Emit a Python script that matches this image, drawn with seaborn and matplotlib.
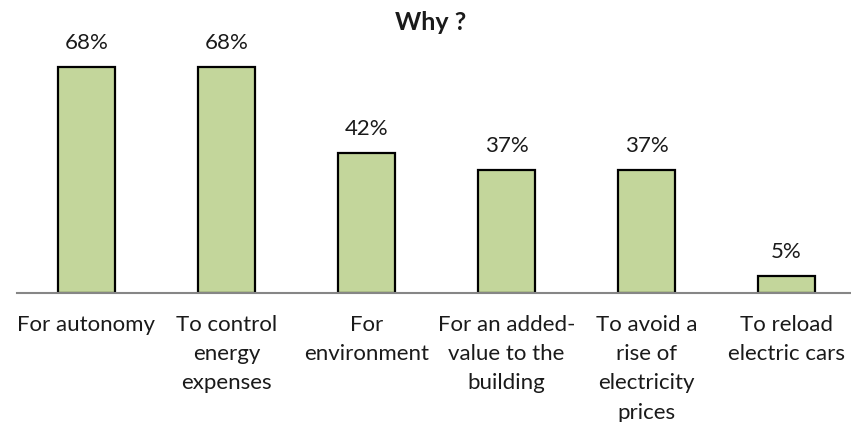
import matplotlib
matplotlib.use("Agg")
import matplotlib.pyplot as plt
import seaborn as sns
import pandas as pd

sns.set_theme(style="white")
plt.rcParams["font.family"] = ["Lato", "DejaVu Sans"]

categories = [
    "For autonomy",
    "To control\nenergy\nexpenses",
    "For\nenvironment",
    "For an added-\nvalue to the\nbuilding",
    "To avoid a\nrise of\nelectricity\nprices",
    "To reload\nelectric cars",
]
shares = [68, 68, 42, 37, 37, 5]

df = pd.DataFrame({"reason": categories, "share": shares})

W, H = 851, 422
fig = plt.figure(figsize=(W / 100, H / 100), dpi=100)
base_y = 292.7
ax = fig.add_axes([16.5 / W, (H - base_y) / H, 840 / W, base_y / H])

sns.barplot(data=df, x="reason", y="share", color="#C3D69B", width=0.41,
            edgecolor="black", linewidth=1.6, saturation=1, ax=ax)

ax.set_xlim(-0.5, 5.5)
ax.set_ylim(0, base_y / 3.32)

for c in ax.containers:
    ax.bar_label(c, labels=[f"{v}%" for v in shares], padding=10,
                 fontsize=16, color="#1a1a1a")

ax.set_xlabel("")
ax.set_ylabel("")
ax.set_yticks([])
ax.tick_params(axis="x", length=0, pad=16, labelsize=16, labelcolor="#1a1a1a")
for lbl in ax.get_xticklabels():
    lbl.set_linespacing(1.58)
    lbl.set_verticalalignment("top")
for s in ["top", "left", "right"]:
    ax.spines[s].set_visible(False)
ax.spines["bottom"].set_color("#868686")
ax.spines["bottom"].set_linewidth(1.5)

fig.text(431 / W, 1 - 22 / H, "Why ?", ha="center", va="center",
         fontsize=18, fontweight="bold", color="#1a1a1a")

fig.savefig("out.png", dpi=100)
